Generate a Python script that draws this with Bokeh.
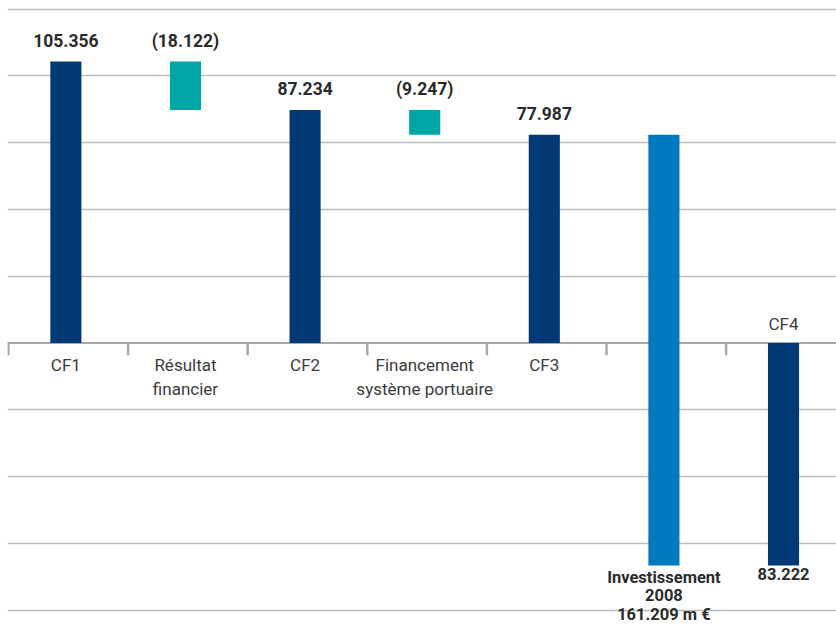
from bokeh.plotting import figure
from bokeh.models import Range1d, FixedTicker, Span, ColumnDataSource
from bokeh.core.properties import value
from bokeh.embed import file_html
from bokeh.resources import INLINE

# ---- data ----
categories = ["CF1", "Résultat\nfinancier", "CF2", "Financement\nsystème portuaire", "CF3", "", "CF4"]
values = [105.356, -18.122, 87.234, -9.247, 77.987, -161.209, -83.222]
kinds = ["total", "delta", "total", "delta", "total", "invest", "total"]
value_labels = ["105.356", "(18.122)", "87.234", "(9.247)", "77.987",
                "Investissement\n2008\n161.209 m €", "83.222"]
grid_ticks = [-100, -75, -50, -25, 25, 50, 75, 100, 125]

colors = {"total": "#023874", "delta": "#00a5a6", "invest": "#0079c1"}
FONT = "Roboto"

# ---- waterfall geometry from data ----
xs, tops, bottoms, fills = [], [], [], []
running = 0.0
for i, (v, k) in enumerate(zip(values, kinds)):
    if k == "total":
        a, b = 0.0, v
        running = v
    else:
        a, b = running, running + v
        running = running + v
    xs.append(i + 0.48)
    tops.append(max(a, b))
    bottoms.append(min(a, b))
    fills.append(colors[k])

p = figure(width=836, height=627, output_backend="svg", toolbar_location=None,
           x_range=Range1d(-0.008, 6.923), y_range=Range1d(-106.45, 128.2),
           min_border=0, min_border_left=7)
p.xaxis.visible = False
p.yaxis.visible = False
p.xgrid.visible = False
p.ygrid.ticker = FixedTicker(ticks=grid_ticks)
p.ygrid.grid_line_color = "#bcbcbc"
p.ygrid.grid_line_width = 1.5
p.outline_line_color = None
p.background_fill_color = "white"
p.border_fill_color = "white"

zero = Span(location=0, dimension="width", line_color="#a9a9a9", line_width=2, level="underlay")
p.add_layout(zero)

# category boundary ticks
p.segment(x0=list(range(len(categories))), y0=[0] * len(categories),
          x1=list(range(len(categories))), y1=[-4.6] * len(categories),
          line_color="#a9a9a9", line_width=2.5)

src = ColumnDataSource(dict(x=xs, top=tops, bottom=bottoms, color=fills))
p.vbar(x="x", top="top", bottom="bottom", width=0.26, fill_color="color", line_color=None, source=src)

# labels
above = dict(x=[], y=[], t=[])
below = dict(x=[], y=[], t=[])
cat_below = dict(x=[], t=[])
cat_above = dict(x=[], t=[])
for x, t, b, vl, c in zip(xs, tops, bottoms, value_labels, categories):
    if b < 0:
        below["x"].append(x); below["y"].append(b); below["t"].append(vl)
        cat_above["x"].append(x); cat_above["t"].append(c)
    else:
        above["x"].append(x); above["y"].append(t); above["t"].append(vl)
        cat_below["x"].append(x); cat_below["t"].append(c)

p.text(x=above["x"], y=above["y"], text=above["t"], text_align="center",
       text_baseline="alphabetic", y_offset=-21, text_font=value(FONT),
       text_font_style="bold", text_font_size="17.5px", text_color="#2b2b2b")
p.text(x=below["x"], y=below["y"], text=below["t"], text_align="center",
       text_baseline="top", y_offset=3, text_font=value(FONT), text_line_height=0.95,
       text_font_style="bold", text_font_size="16.5px", text_color="#2b2b2b")
p.text(x=cat_below["x"], y=[0] * len(cat_below["x"]), text=cat_below["t"], text_align="center",
       text_baseline="top", y_offset=12, text_font=value(FONT), text_line_height=1.2,
       text_font_size="17px", text_color="#3c3c3c")
p.text(x=cat_above["x"], y=[0] * len(cat_above["x"]), text=cat_above["t"], text_align="center",
       text_baseline="alphabetic", y_offset=-19, text_font=value(FONT),
       text_font_size="17px", text_color="#3c3c3c")

open("out.html", "w").write(file_html(p, INLINE))
